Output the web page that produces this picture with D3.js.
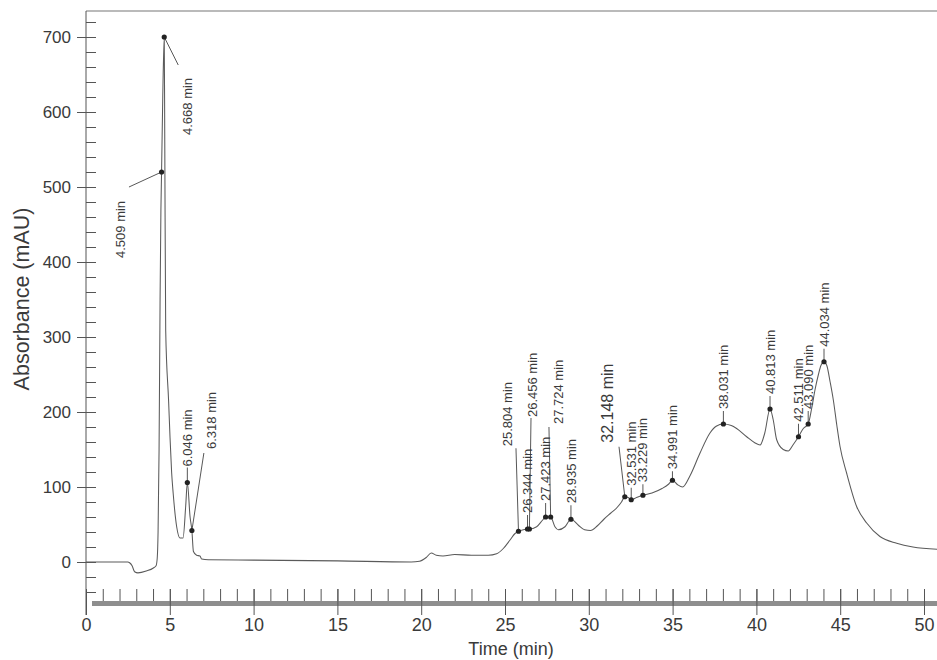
<!DOCTYPE html>
<html><head><meta charset="utf-8">
<script src="https://cdn.jsdelivr.net/npm/d3@7"></script>
<style>
body{margin:0;background:#fff}
svg{display:block;background:#fff}
text{font-family:"Liberation Sans",Arial,sans-serif;fill:#3a3a3a}
</style>
</head><body>
<svg id="chart" width="937" height="660"></svg>
<script>
// ---- data ----
const times = [0,2.5,2.6,2.75,2.9,3.1,3.6,4.02,4.18,4.25,4.3,4.36,4.42,4.47,4.509,4.58,4.668,4.7,4.755,4.93,5.01,5.11,5.2,5.41,5.61,5.79,5.95,6.046,6.21,6.318,6.41,6.6,6.8,6.9,7.3,10,15,19.4,19.9,20.3,20.6,20.9,21.3,22,23,24,24.5,24.9,25.29,25.6,25.804,26.1,26.344,26.456,26.89,27.25,27.423,27.724,27.98,28.18,28.58,28.935,29.38,29.75,30.1,30.5,30.9,31.3,31.7,31.95,32.148,32.35,32.531,32.85,33.229,33.77,34.37,34.77,34.991,35.3,35.6,36.04,36.63,37.23,37.6,38.031,38.5,38.82,39.42,39.9,40.22,40.5,40.813,41.0,41.21,41.6,41.9,42.18,42.511,42.8,43.09,43.3,43.5,43.7,43.85,44.034,44.2,44.4,44.59,44.8,44.99,45.39,45.98,46.58,47.37,48.37,49.34,50.78];
const absorbance = [0,0,-1,-5,-13,-14.5,-12,-8,-5,5,40,150,350,470,520,620,700,560,309,214,168,119,92,47,32,32,75,106,60,42,14,9,8,4,3,2.5,1.5,0,1,6,12,9,8,10,9,9,11,18,29,38,41,43,44,44,47,56,60,60,47,43,47,57,49,43,42,48,57,65,73,80,87,86,83,86,89,92,98,104,109,103,100,115,145,172,181,184,182,178,167,159,156,172,204,190,163,150,148,156,167,178,184,205,230,250,262,267,262,240,216,182,154,118,74,52,34,25,20,17];

const peakTimes  = [4.509,4.668,6.046,6.318,25.804,26.344,26.456,27.423,27.724,28.935,32.148,32.531,33.229,34.991,38.031,40.813,42.511,43.090,44.034];
const peakValues = [520,700,106,42,41,44,44,60,60,57,87,83,89,109,184,204,167,184,267];
const peakLabels = peakTimes.map(t => t.toFixed(3) + " min");

const xMajorTicks = d3.range(0, 51, 5);
const xMinorTicks = d3.range(0, 51, 1);
const yMajorTicks = d3.range(0, 701, 100);
const yMinorTicks = d3.range(-40, 721, 20);

// ---- label layout (pixel offsets from each peak marker) ----
// [leaderDx, leaderDy, textDx, textDy, fontSize]
const labelLayout = [
  [-32.6, 15, -41.6, 86, 13],
  [14, 28, 23, 98, 13],
  [0, -15, 0, -16, 13],
  [12, -77.5, 20, -81.5, 13],
  [-2.5, -83, -11.5, -85, 13],
  [0, -14, 0, -16, 13],
  [1.6, -111, 2.6, -112, 13],
  [0, -14, 0, -16, 13],
  [-1.7, -90, 7.3, -93, 13],
  [0, -14, 0, -16, 13],
  [-5.8, -50, -17.8, -54, 16],
  [0, -12, 0, -14, 13],
  [0, -11, 0, -13, 13],
  [0, -9, 0, -11, 13],
  [0, -13, 0, -15, 13],
  [0, -13, 0, -15, 13],
  [0, -13, 0, -15, 13],
  [0, -13, 0, -15, 13],
  [0, -13, 0, -15, 13]
];

// ---- drawing ----
const svg = d3.select("#chart");
const x = d3.scaleLinear().domain([0, 50]).range([86, 924]);
const y = d3.scaleLinear().domain([0, 700]).range([562, 37]);
const axisColor = "#555";

// top frame line
svg.append("line").attr("x1", 86).attr("x2", 937).attr("y1", 11).attr("y2", 11)
  .attr("stroke", "#777").attr("stroke-width", 1.2);
// y axis line
svg.append("line").attr("x1", 86).attr("x2", 86).attr("y1", 11).attr("y2", 615)
  .attr("stroke", axisColor).attr("stroke-width", 1);

// y minor ticks (inside)
const yMinor = svg.append("g").attr("transform", "translate(86,0)")
  .call(d3.axisRight(y).tickValues(yMinorTicks).tickSize(10).tickFormat(""));
yMinor.select(".domain").remove();
yMinor.selectAll("line").attr("stroke", axisColor);

// y major ticks with labels
const yMajor = svg.append("g").attr("transform", "translate(86,0)")
  .call(d3.axisLeft(y).tickValues(yMajorTicks).tickSizeInner(9).tickSizeOuter(0).tickPadding(6));
yMajor.select(".domain").remove();
yMajor.selectAll("line").attr("stroke", axisColor);
yMajor.selectAll("text").style("font-size", "17px").style("font-family", "'Liberation Sans',Arial,sans-serif").attr("fill", "#3a3a3a");

// gray time bar
svg.append("rect").attr("x", 92).attr("y", 601).attr("width", 937 - 92).attr("height", 5)
  .attr("fill", "#8e8e8e");

// x minor ticks
const xMinor = svg.append("g").attr("transform", "translate(0,601)")
  .call(d3.axisTop(x).tickValues(xMinorTicks).tickSize(12).tickFormat(""));
xMinor.select(".domain").remove();
xMinor.selectAll("line").attr("stroke", axisColor);

// x major ticks with labels
const xMajor = svg.append("g").attr("transform", "translate(0,589)")
  .call(d3.axisBottom(x).tickValues(xMajorTicks).tickSize(26).tickPadding(3));
xMajor.select(".domain").remove();
xMajor.selectAll("line").attr("stroke", axisColor);
xMajor.selectAll("text").style("font-size", "18px").style("font-family", "'Liberation Sans',Arial,sans-serif").attr("fill", "#3a3a3a");

// axis titles
svg.append("text").attr("transform", "translate(29,299) rotate(-90)")
  .attr("text-anchor", "middle").style("font-size", "21.5px").text("Absorbance (mAU)");
svg.append("text").attr("x", 511).attr("y", 655)
  .attr("text-anchor", "middle").style("font-size", "18px").text("Time (min)");

// chromatogram trace
const pts = times.map((t, i) => [t, absorbance[i]]);
svg.append("path").datum(pts)
  .attr("fill", "none").attr("stroke", "#5a5a5a").attr("stroke-width", 1.05)
  .attr("d", d3.line().x(d => x(d[0])).y(d => y(d[1])).curve(d3.curveMonotoneX));

// peak markers, leaders and labels
const peaks = peakTimes.map((t, i) => ({t, v: peakValues[i], label: peakLabels[i], lay: labelLayout[i]}));
const pg = svg.append("g");
pg.selectAll("line.leader").data(peaks).join("line").attr("class", "leader")
  .attr("x1", d => x(d.t)).attr("y1", d => y(d.v))
  .attr("x2", d => x(d.t) + d.lay[0]).attr("y2", d => y(d.v) + d.lay[1])
  .attr("stroke", "#444").attr("stroke-width", 0.9);
pg.selectAll("circle").data(peaks).join("circle")
  .attr("cx", d => x(d.t)).attr("cy", d => y(d.v)).attr("r", 2.6).attr("fill", "#222");
pg.selectAll("text").data(peaks).join("text")
  .attr("transform", d => `translate(${x(d.t) + d.lay[2]},${y(d.v) + d.lay[3]}) rotate(-90)`)
  .attr("dy", "0.35em").attr("text-anchor", "start")
  .style("font-size", d => d.lay[4] + "px")
  .text(d => d.label);
</script>
</body></html>
